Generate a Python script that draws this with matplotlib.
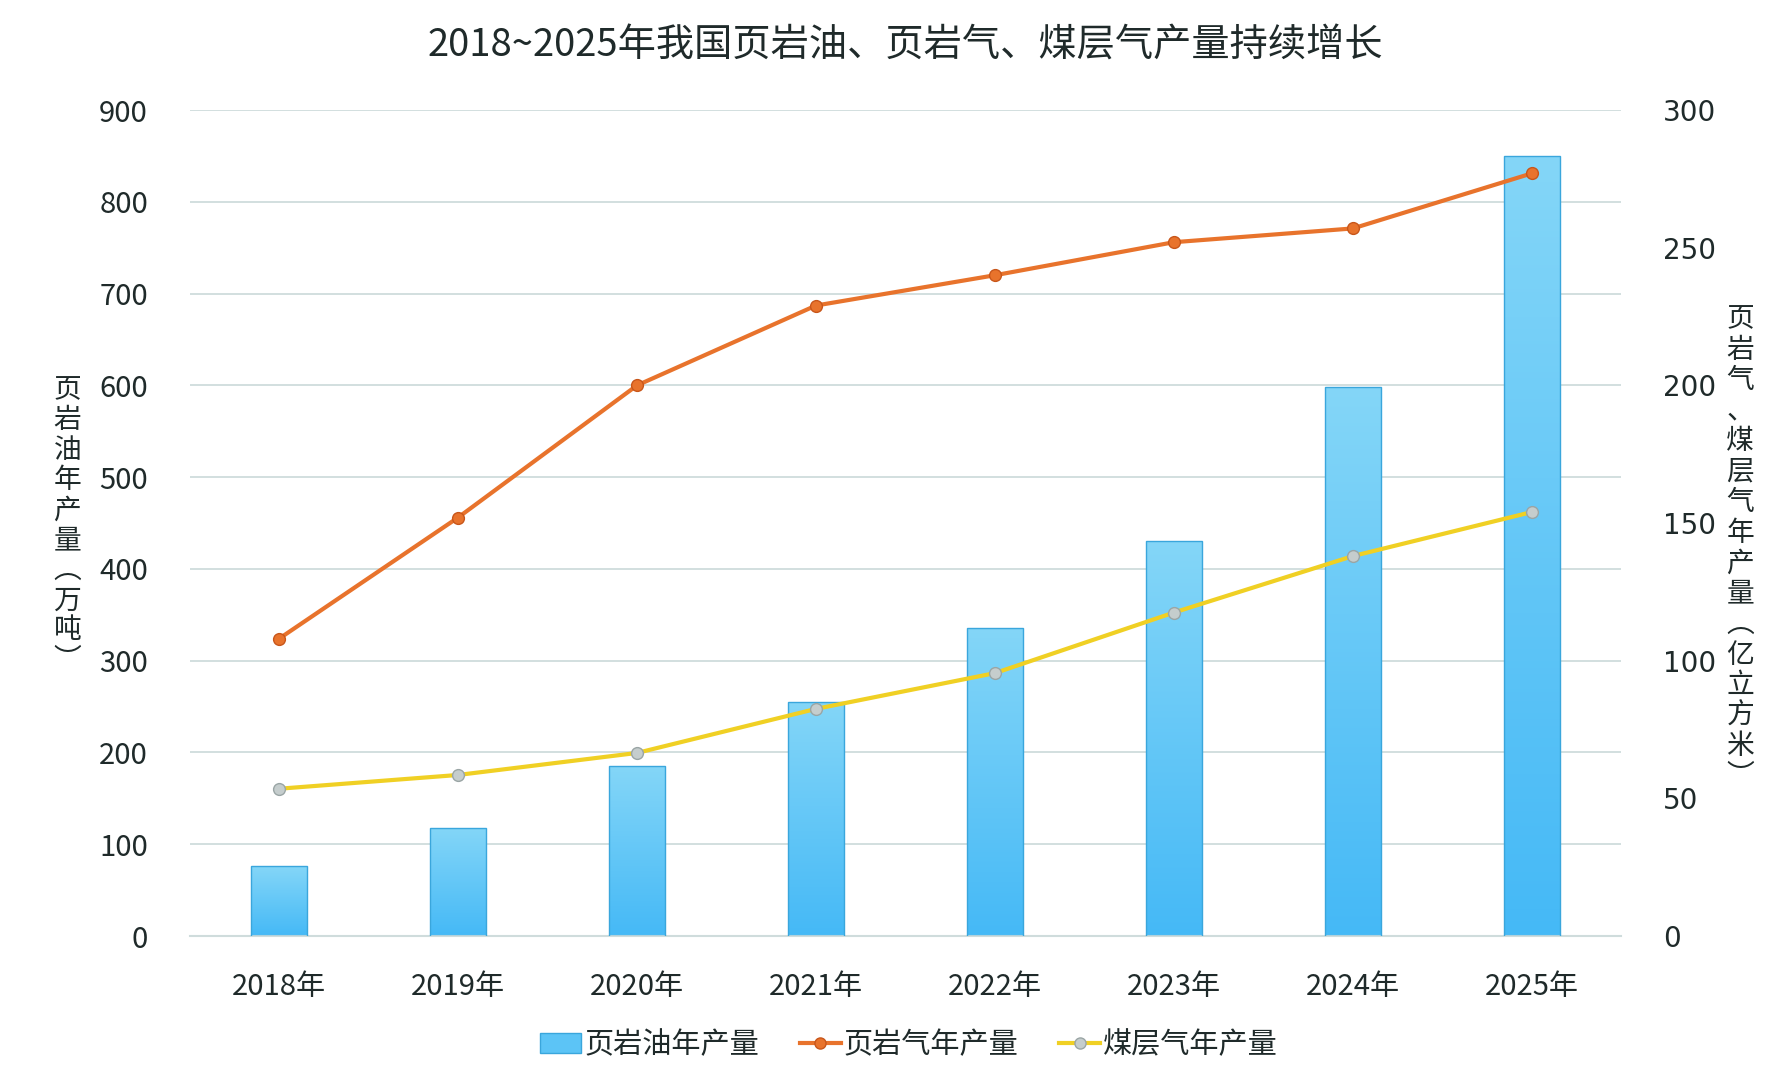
import matplotlib
matplotlib.use("Agg")
import matplotlib.pyplot as plt
import numpy as np
from matplotlib.colors import LinearSegmentedColormap
from matplotlib.lines import Line2D
from matplotlib.patches import Patch

plt.rcParams['font.family'] = ['Noto Sans CJK SC', 'DejaVu Sans']

years = ["2018年", "2019年", "2020年", "2021年", "2022年", "2023年", "2024年", "2025年"]
shale_oil = [76, 118, 185, 255, 336, 430, 598, 850]
shale_gas = [108, 152, 200, 229, 240, 252, 257, 277]
cbm = [53.5, 58.5, 66.5, 82.5, 95.5, 117.5, 138, 154]

left_ticks = [0, 100, 200, 300, 400, 500, 600, 700, 800, 900]
right_ticks = [0, 50, 100, 150, 200, 250, 300]

title = "2018~2025年我国页岩油、页岩气、煤层气产量持续增长"
left_label = "页岩油年产量︵万吨︶"
right_label = "页岩气、煤层气年产量︵亿立方米︶"
legend_labels = ["页岩油年产量", "页岩气年产量", "煤层气年产量"]

text_color = "#1f2a2a"
grid_color = "#cfdcdc"
orange = "#e8732c"
orange_edge = "#c8561a"
yellow = "#f0d024"
gray_marker = "#c5cdcd"
gray_edge = "#9aa5a5"

fig = plt.figure(figsize=(17.72, 10.83), dpi=100)
ax = fig.add_axes([0.107, 0.1357, 0.808, 0.7627])
x = np.arange(len(years))
bw = 0.315

cmap = LinearSegmentedColormap.from_list("blu", ["#45b9f6", "#84d6f8"])
bars = ax.bar(x, shale_oil, width=bw, color="none", edgecolor="#3aa6dc", linewidth=1.0, zorder=3)
grad = np.linspace(0, 1, 256).reshape(-1, 1)
for b in bars:
    x0 = b.get_x()
    h = b.get_height()
    im = ax.imshow(grad, extent=[x0, x0 + bw, 0, h], origin="lower", aspect="auto",
                   cmap=cmap, zorder=2)
    im.set_clip_path(b)

ax.set_xlim(-0.5, len(years) - 0.5)
ax.set_ylim(0, 900)
ax.set_yticks(left_ticks)
ax.set_xticks(x)
ax.set_xticklabels(years)
ax.grid(axis="y", color=grid_color, linewidth=1.3, zorder=0)
ax.set_axisbelow(True)
for s in ["top", "right", "left"]:
    ax.spines[s].set_visible(False)
ax.spines["bottom"].set_color(grid_color)
ax.spines["bottom"].set_linewidth(1.5)
ax.tick_params(axis="both", length=0, colors=text_color, labelsize=21)
ax.tick_params(axis="y", pad=30)
ax.tick_params(axis="x", pad=26)

ax2 = ax.twinx()
ax2.set_ylim(0, 300)
ax2.set_yticks(right_ticks)
for s in ["top", "right", "left", "bottom"]:
    ax2.spines[s].set_visible(False)
ax2.tick_params(axis="y", length=0, colors=text_color, labelsize=20, pad=30)
for t in ax2.get_yticklabels():
    t.set_fontfamily("DejaVu Sans")

ax2.plot(x, shale_gas, color=orange, linewidth=3, marker="o", markersize=8.5,
         markerfacecolor=orange, markeredgecolor=orange_edge, markeredgewidth=1.0, zorder=5)
ax2.plot(x, cbm, color=yellow, linewidth=3, marker="o", markersize=8.5,
         markerfacecolor=gray_marker, markeredgecolor=gray_edge, markeredgewidth=1.0, zorder=5)

fig.text(0.511, 0.957, title, ha="center", va="center", fontsize=27.5, color=text_color)

fig.text(0.038, 0.515, "\n".join(left_label), ha="center", va="center", fontsize=20,
         color=text_color, linespacing=1.0)
fig.text(0.982, 0.494, "\n".join(right_label), ha="center", va="center", fontsize=20,
         color=text_color, linespacing=1.02)

handles = [
    Patch(facecolor="#5cc4f6", edgecolor="#3aa6dc"),
    Line2D([0], [0], color=orange, linewidth=3, marker="o", markersize=8,
           markerfacecolor=orange, markeredgecolor=orange_edge),
    Line2D([0], [0], color=yellow, linewidth=3, marker="o", markersize=8,
           markerfacecolor=gray_marker, markeredgecolor=gray_edge),
]
fig.legend(handles, legend_labels, loc="center", bbox_to_anchor=(0.513, 0.035), ncol=3,
           frameon=False, fontsize=21, handlelength=1.4, handletextpad=0.1,
           columnspacing=1.4, labelcolor=text_color)

fig.savefig("out.png", dpi=100)
